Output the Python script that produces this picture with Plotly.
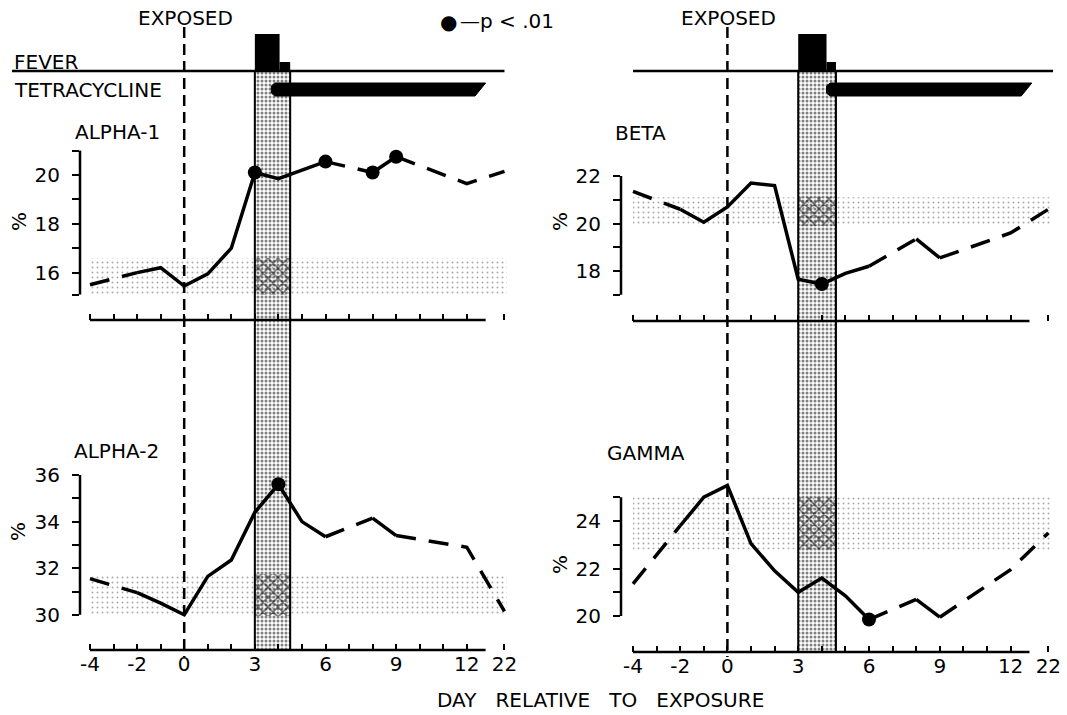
import plotly.graph_objects as go

W, H = 1067, 715

# ---------------- data ----------------
days = [-4, -2, -1, 0, 1, 2, 3, 4, 5, 6, 8, 9, 12, 22]
alpha1 = [15.5, 16.0, 16.2, 15.45, 15.95, 17.0, 20.1, 19.85, 20.2, 20.55, 20.1, 20.75, 19.65, 20.15]
alpha2 = [31.55, 30.95, 30.5, 30.0, 31.65, 32.35, 34.4, 35.6, 34.0, 33.35, 34.15, 33.4, 32.9, 30.15]
beta = [21.35, 20.6, 20.05, 20.7, 21.7, 21.6, 17.65, 17.45, 17.9, 18.2, 19.35, 18.55, 19.6, 20.6]
gamma = [21.35, 23.8, 25.0, 25.5, 23.05, 21.9, 21.0, 21.6, 20.85, 19.85, 20.7, 19.95, 21.95, 23.5]

alpha1_sig = [3, 6, 8, 9]
alpha2_sig = [4]
beta_sig = [4]
gamma_sig = [6]

alpha1_normal = (15.1, 16.6)
beta_normal = (19.9, 21.1)
alpha2_normal = (29.95, 31.75)
gamma_normal = (22.8, 25.0)

alpha1_axis = (15.1, 21)
beta_axis = (17, 22)
alpha2_axis = (30, 36)
gamma_axis = (20, 25)
alpha1_ticklabels = [16, 18, 20]
beta_ticklabels = [18, 20, 22]
alpha2_ticklabels = [30, 32, 34, 36]
gamma_ticklabels = [20, 22, 24]

tick_days = list(range(-4, 13)) + [22]
label_days = [-4, -2, 0, 3, 6, 9, 12, 22]
exposure_day = 0
fever_period = {"L": (3.0, 4.5), "R": (3.0, 4.6)}
fever_x0 = {"L": [3.0, 4.05], "R": [3.0, 4.2]}
fever_x1 = {"L": [4.05, 4.5], "R": [4.2, 4.6]}
fever_level = [37.0, 9.0]
tetracycline = {"L": (3.7, 12.8), "R": (4.2, 12.9)}

# axis break: day 22 is drawn just past day 12
BREAK = {22: 13.6}


def pos(d):
    return BREAK.get(d, d)


# ---------------- geometry (pixels) ----------------
cols = {
    "L": dict(m4=90.0, ppd=23.55, yline=80.0, right=522.0),
    "R": dict(m4=633.0, ppd=23.6, yline=621.0, right=1062.0),
}
HEADER_TOP, HEADER_BOT = 26, 100
FEVER_LINE = 71
TETRA_TOP, TETRA_BOT = 83, 96
panels = {
    "ALPHA-1": dict(col="L", xa="x3", ya="y3", ref=(20, 175), ppu=24.4, top=100, bot=320,
                    vals=alpha1, sig=alpha1_sig, normal=alpha1_normal, axis=alpha1_axis,
                    labs=alpha1_ticklabels, xlabels=False, title=(117, 132), pct=(19, 222)),
    "ALPHA-2": dict(col="L", xa="x4", ya="y4", ref=(36, 475), ppu=23.3, top=320, bot=650,
                    vals=alpha2, sig=alpha2_sig, normal=alpha2_normal, axis=alpha2_axis,
                    labs=alpha2_ticklabels, xlabels=True, title=(116, 451), pct=(18, 532)),
    "BETA": dict(col="R", xa="x7", ya="y7", ref=(22, 176), ppu=23.75, top=100, bot=321,
                 vals=beta, sig=beta_sig, normal=beta_normal, axis=beta_axis,
                 labs=beta_ticklabels, xlabels=False, title=(640, 133), pct=(560, 222)),
    "GAMMA": dict(col="R", xa="x8", ya="y8", ref=(24, 521), ppu=23.75, top=321, bot=652,
                  vals=gamma, sig=gamma_sig, normal=gamma_normal, axis=gamma_axis,
                  labs=gamma_ticklabels, xlabels=True, title=(646, 453), pct=(560, 565)),
}
col_axes = {"L": dict(bgx="x", bgy="y", hy="y2", bgbot=650),
            "R": dict(bgx="x5", bgy="y5", hy="y6", bgbot=652)}


def xrange_of(c):
    g = cols[c]
    return [(g["yline"] - g["m4"]) / g["ppd"] - 4, (g["right"] - g["m4"]) / g["ppd"] - 4]


def xdomain_of(c):
    g = cols[c]
    return [g["yline"] / W, g["right"] / W]


def ydom(top, bot):
    return [1 - bot / H, 1 - top / H]


def day_px(c, p):
    g = cols[c]
    return g["m4"] + (p + 4) * g["ppd"]


FONT = "DejaVu Sans"
FS = 20
fig = go.Figure()
layout = {}
shapes = []
annotations = []


def label(text, x, y, xanchor="center", angle=0, size=FS):
    annotations.append(dict(text=text, xref="paper", yref="paper", x=x / W, y=1 - y / H,
                            xanchor=xanchor, yanchor="middle", showarrow=False, textangle=angle,
                            font=dict(family=FONT, size=size, color="black")))


ax_hidden = dict(visible=False, showgrid=False, zeroline=False)

for c in ["L", "R"]:
    ca = col_axes[c]
    bgx, bgy, hy = ca["bgx"], ca["bgy"], ca["hy"]
    xk = "xaxis" if bgx == "x" else "xaxis" + bgx[1:]
    layout[xk] = dict(ax_hidden, domain=xdomain_of(c), range=xrange_of(c), anchor=bgy)
    layout["yaxis" + bgy[1:]] = dict(ax_hidden, domain=ydom(FEVER_LINE, ca["bgbot"]), range=[0, 1], anchor=bgx)
    layout["yaxis" + hy[1:]] = dict(ax_hidden, domain=ydom(HEADER_TOP, HEADER_BOT),
                                     range=[0, HEADER_BOT - HEADER_TOP], anchor=bgx)

    # dotted fever band
    b0, b1 = fever_period[c]
    fig.add_trace(go.Bar(x=[(b0 + b1) / 2], y=[1], base=[0], width=[b1 - b0], xaxis=bgx, yaxis=bgy,
                         marker=dict(color="rgba(0,0,0,0)", line=dict(width=0),
                                     pattern=dict(shape=".", fgcolor="#000", bgcolor="rgba(0,0,0,0)",
                                                  size=4, solidity=0.45, fillmode="overlay")),
                         hoverinfo="skip", showlegend=False))
    for xb in (b0, b1):
        shapes.append(dict(type="line", xref=bgx, yref="paper", x0=xb, x1=xb,
                           y0=1 - FEVER_LINE / H, y1=1 - ca["bgbot"] / H,
                           line=dict(color="black", width=2)))

    # fever bars
    fbase = HEADER_BOT - FEVER_LINE
    fig.add_trace(go.Bar(x=[(a + b) / 2 for a, b in zip(fever_x0[c], fever_x1[c])],
                         width=[b - a for a, b in zip(fever_x0[c], fever_x1[c])],
                         y=fever_level, base=[fbase] * len(fever_level), xaxis=bgx, yaxis=hy,
                         marker=dict(color="black", line=dict(width=0)), hoverinfo="skip", showlegend=False))
    # tetracycline bar (tapered end)
    t0, t1 = tetracycline[c]
    tt, tb = HEADER_BOT - TETRA_TOP, HEADER_BOT - TETRA_BOT
    fig.add_trace(go.Scatter(x=[t0 + 0.15, t0, t0, t0 + 0.15, t1 - 0.45, t1, t0 + 0.15],
                             y=[tt, tt - 3, tb + 3, tb, tb, tt, tt],
                             fill="toself", fillcolor="black", mode="lines",
                             line=dict(color="black", width=1), xaxis=bgx, yaxis=hy,
                             hoverinfo="skip", showlegend=False))
    # fever baseline
    x_start = 12 if c == "L" else day_px(c, -4)
    shapes.append(dict(type="line", xref="paper", yref="paper", x0=x_start / W,
                       x1=day_px(c, 13.8 if c == "R" else 13.6) / W,
                       y0=1 - FEVER_LINE / H, y1=1 - FEVER_LINE / H, line=dict(color="black", width=2.5)))
    # exposure dashed line
    shapes.append(dict(type="line", xref=bgx, yref="paper", x0=exposure_day, x1=exposure_day,
                       y0=1 - 27 / H, y1=1 - 657 / H, line=dict(color="black", width=2.5, dash="11px,6px")))
    label("EXPOSED", day_px(c, exposure_day) + 1, 18)

for name, p in panels.items():
    c = p["col"]
    xa, ya = p["xa"], p["ya"]
    rv, rpy = p["ref"]
    yr = [rv - (p["bot"] - rpy) / p["ppu"], rv + (rpy - p["top"]) / p["ppu"]]
    amin, amax = p["axis"]
    if amin == int(amin):
        yt = list(range(int(amin), int(amax) + 1))
    else:
        yt = [amin] + list(range(int(amin) + 1, int(amax) + 1))
    ytext = [str(v) if v in p["labs"] else "" for v in yt]
    xt = [pos(d) for d in tick_days]
    xtext = [str(d) if (p["xlabels"] and d in label_days) else "" for d in tick_days]
    layout["xaxis" + xa[1:]] = dict(domain=xdomain_of(c), range=xrange_of(c), anchor=ya,
                                    showgrid=False, zeroline=False, showline=False,
                                    ticks="inside", ticklen=6, tickwidth=2, tickcolor="black",
                                    tickmode="array", tickvals=xt, ticktext=xtext,
                                    tickfont=dict(family=FONT, size=FS, color="black"))
    layout["yaxis" + ya[1:]] = dict(domain=ydom(p["top"], p["bot"]), range=yr, anchor=xa,
                                    showgrid=False, zeroline=False, showline=False,
                                    ticks="outside", ticklen=7, tickwidth=2, tickcolor="black",
                                    tickmode="array", tickvals=yt, ticktext=ytext,
                                    ticklabelstandoff=8,
                                    tickfont=dict(family=FONT, size=FS, color="black"))
    # axis lines
    shapes.append(dict(type="line", xref="paper", yref=ya, x0=cols[c]["yline"] / W, x1=cols[c]["yline"] / W,
                       y0=amin, y1=amax, line=dict(color="black", width=2.5)))
    shapes.append(dict(type="line", xref=xa, yref="paper", x0=-4, x1=12.8,
                       y0=1 - p["bot"] / H, y1=1 - p["bot"] / H, line=dict(color="black", width=2.5)))

    # normal range (light stipple)
    lo, hi = p["normal"]
    n0, n1 = -4, pos(22) + 0.1
    fig.add_trace(go.Bar(x=[(n0 + n1) / 2], width=[n1 - n0], y=[hi - lo], base=[lo], xaxis=xa, yaxis=ya,
                         marker=dict(color="rgba(0,0,0,0)", line=dict(width=0),
                                     pattern=dict(shape=".", fgcolor="#555", bgcolor="rgba(0,0,0,0)",
                                                  size=5, solidity=0.12, fillmode="overlay")),
                         hoverinfo="skip", showlegend=False))
    b0, b1 = fever_period[c]
    fig.add_trace(go.Bar(x=[(b0 + b1) / 2], width=[b1 - b0], y=[hi - lo], base=[lo], xaxis=xa, yaxis=ya,
                         marker=dict(color="rgba(0,0,0,0)", line=dict(width=0),
                                     pattern=dict(shape="x", fgcolor="#000", bgcolor="rgba(0,0,0,0)",
                                                  size=7, solidity=0.4, fillmode="overlay")),
                         hoverinfo="skip", showlegend=False))

    # data lines: solid between consecutive days, long-dashed across missing days
    vals = p["vals"]
    sx, sy = [], []
    dashed_runs = []
    run = None
    for i in range(len(days) - 1):
        d0, d1 = days[i], days[i + 1]
        if d1 - d0 == 1:
            if sx and sx[-1] is not None and sx[-1] == pos(d0):
                sx.append(pos(d1)); sy.append(vals[i + 1])
            else:
                if sx:
                    sx.append(None); sy.append(None)
                sx += [pos(d0), pos(d1)]; sy += [vals[i], vals[i + 1]]
            run = None
        else:
            if run is None:
                run = ([pos(d0)], [vals[i]])
                dashed_runs.append(run)
            run[0].append(pos(d1)); run[1].append(vals[i + 1])
    fig.add_trace(go.Scatter(x=sx, y=sy, mode="lines", line=dict(color="black", width=3.5),
                             connectgaps=False, xaxis=xa, yaxis=ya, hoverinfo="skip", showlegend=False))
    for rx, ry in dashed_runs:
        fig.add_trace(go.Scatter(x=rx, y=ry, mode="lines", line=dict(color="black", width=3.5, dash="20px,13px"),
                                 xaxis=xa, yaxis=ya, hoverinfo="skip", showlegend=False))
    fig.add_trace(go.Scatter(x=[pos(d) for d in p["sig"]], y=[vals[days.index(d)] for d in p["sig"]],
                             mode="markers", marker=dict(color="black", size=14), xaxis=xa, yaxis=ya,
                             hoverinfo="skip", showlegend=False, cliponaxis=False))

    tx, ty = p["title"]
    label(name, tx, ty)
    px_, py_ = p["pct"]
    label("%", px_, py_, angle=-90)

label("FEVER", 12, 62, xanchor="left")
label("TETRACYCLINE", 12, 90, xanchor="left")
label("\u25cf", 448, 22)
label("\u2014p < .01", 458, 21, xanchor="left")
label("DAY\u00a0\u00a0\u00a0RELATIVE\u00a0\u00a0\u00a0TO\u00a0\u00a0\u00a0EXPOSURE", 600, 700)

fig.update_layout(width=W, height=H, margin=dict(l=0, r=0, t=0, b=0),
                  paper_bgcolor="white", plot_bgcolor="rgba(0,0,0,0)", barmode="overlay",
                  showlegend=False, shapes=shapes, annotations=annotations, **layout)

fig.write_html("out.html", config={"displayModeBar": False},
               post_script="document.body.style.margin='0';document.body.style.overflow='hidden';")
